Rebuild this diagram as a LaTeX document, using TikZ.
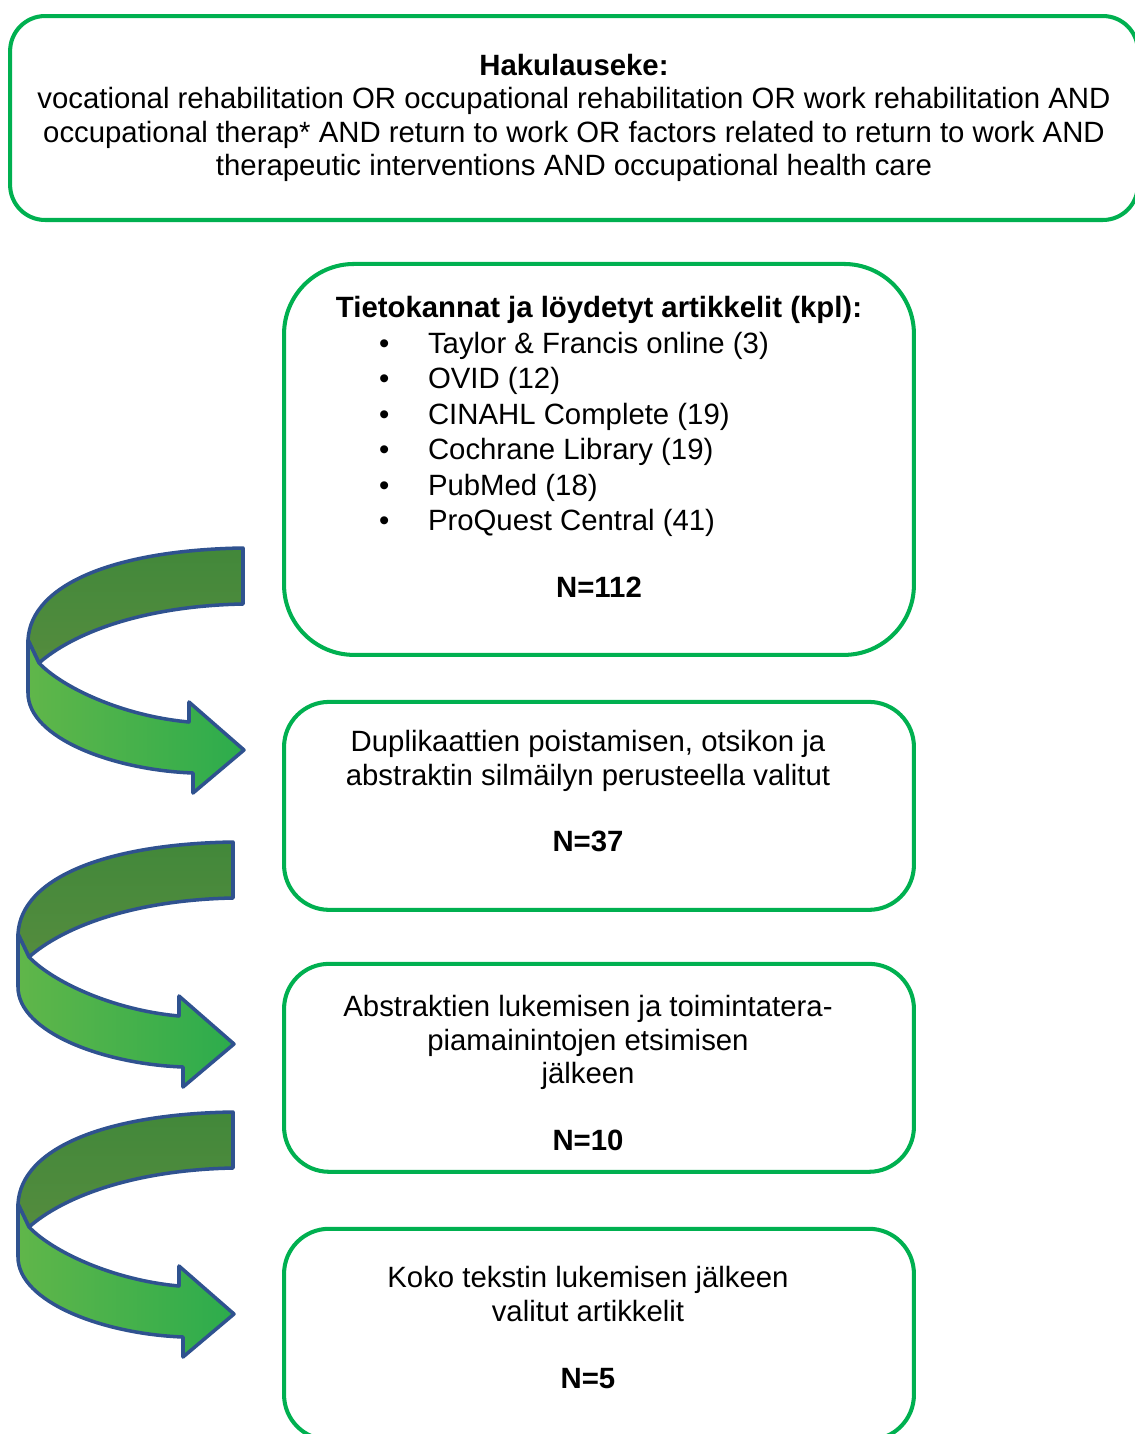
\documentclass[tikz,border=0pt]{standalone}
\usepackage{fontspec}
\setmainfont{Liberation Sans}
\usetikzlibrary{positioning}
\definecolor{boxgreen}{RGB}{0,176,80}
\definecolor{arrowblue}{RGB}{47,82,143}
\definecolor{darkbandhi}{RGB}{66,136,58}
\definecolor{darkbandlo}{RGB}{84,140,62}
\definecolor{lightbandhi}{RGB}{96,182,74}
\definecolor{lightbandlo}{RGB}{44,172,76}
\newcommand{\dbitem}[1]{\makebox[8.8cm][l]{\makebox[0.98cm][l]{\textbullet}#1}}
\newcommand{\lowpad}[1]{\rule[-#1]{0pt}{#1}}
\newcommand{\steplines}[1]{\begin{tabular}{@{}c@{}}#1\end{tabular}\hspace*{0.44cm}}
\tikzset{
  flowbox/.style={rectangle, draw=boxgreen, fill=white, line width=2.3pt,
    align=center, font=\fontsize{16.7}{19}\selectfont, inner sep=0pt,
    outer sep=0pt, minimum width=12.6cm, minimum height=4.16cm,
    rounded corners=0.9cm},
  searchbox/.style={flowbox, minimum width=22.56cm, minimum height=4.08cm,
    rounded corners=0.7cm},
  ribbon/.style={draw=arrowblue, line width=2pt, line join=round},
  turnarrow/.pic={
    % upper (back) part of the ribbon
    \shade[ribbon, top color=darkbandhi, bottom color=darkbandlo]
      (0,0) .. controls (-125,2) and (-212,35) .. (-215,92)
      -- (-204,115) .. controls (-170,85) and (-100,58) .. (0,56) -- cycle;
    % lower (front) part with the head
    \shade[ribbon, left color=lightbandhi, right color=lightbandlo]
      (-215,92) -- (-215,145) .. controls (-215,190) and (-130,222) .. (-50,225)
      -- (-50,245) -- (1,202) -- (-54,154) -- (-54,174)
      .. controls (-120,168) and (-180,140) .. (-204,115) -- cycle;
  }
}

\begin{document}
\begin{tikzpicture}[x=0.02cm, y=-0.02cm]
  \useasboundingbox (0,0) rectangle (1134,1434);

  \node[searchbox] (hakulause) at (574,118) {\textbf{Hakulauseke:}\\
    vocational rehabilitation OR occupational rehabilitation OR work rehabilitation AND\\
    occupational therap* AND return to work OR factors related to return to work AND\\
    therapeutic interventions AND occupational health care};

  \node[flowbox, minimum height=7.82cm, rounded corners=1.4cm,
    below=0.88cm of hakulause, xshift=0.5cm] (tietokannat)
    {\textbf{Tietokannat ja löydetyt artikkelit (kpl):}\\[1.2pt]
     \dbitem{Taylor \& Francis online (3)}\\[1.2pt]
     \dbitem{OVID (12)}\\[1.2pt]
     \dbitem{CINAHL Complete (19)}\\[1.2pt]
     \dbitem{Cochrane Library (19)}\\[1.2pt]
     \dbitem{PubMed (18)}\\[1.2pt]
     \dbitem{ProQuest Central (41)}\\[19pt]
     \textbf{N=112}\lowpad{14pt}};

  \node[flowbox, below=0.94cm of tietokannat] (duplikaatit)
    {\steplines{Duplikaattien poistamisen, otsikon ja\\
     abstraktin silmäilyn perusteella valitut\\[19pt]
     \textbf{N=37}\lowpad{18pt}}};

  \node[flowbox, below=1.08cm of duplikaatit] (abstraktit)
    {\steplines{\rule{0pt}{23.5pt}Abstraktien lukemisen ja toimintatera-\\
     piamainintojen etsimisen\\
     jälkeen\\[19pt]
     \textbf{N=10}}};

  \node[flowbox, minimum height=4.22cm, below=1.14cm of abstraktit] (kokoteksti)
    {\steplines{Koko tekstin lukemisen jälkeen\\
     valitut artikkelit\\[19pt]
     \textbf{N=5}\lowpad{9pt}}};

  % curved arrows between the steps
  \pic at (243,548) {turnarrow};
  \pic at (233,842) {turnarrow};
  \pic at (233,1112) {turnarrow};
\end{tikzpicture}
\end{document}
